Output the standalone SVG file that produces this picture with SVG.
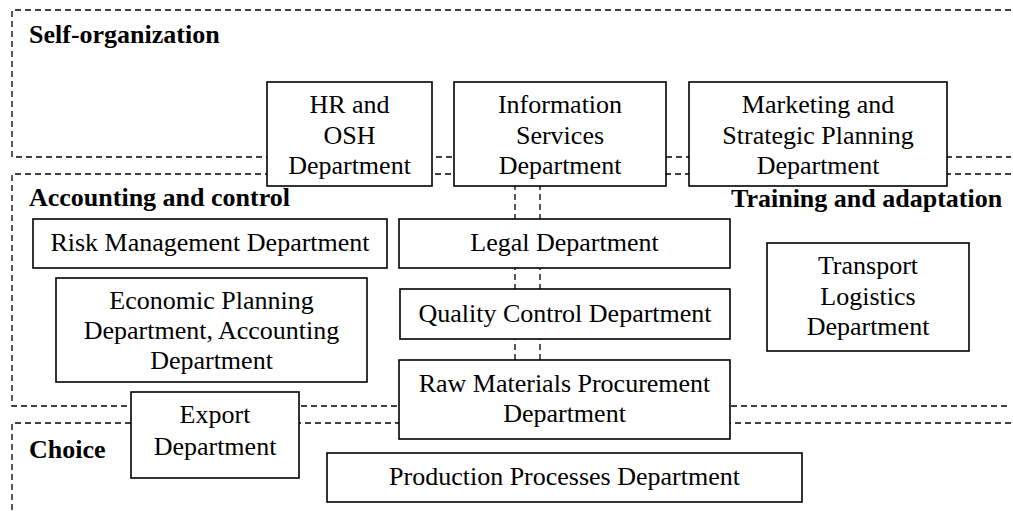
<svg xmlns="http://www.w3.org/2000/svg" width="1013" height="511" viewBox="0 0 1013 511">
<style>
.region{fill:none;stroke:#000;stroke-width:1.3;stroke-dasharray:6 4}
.conn{fill:none;stroke:#000;stroke-width:1.3;stroke-dasharray:6 4}
.box{fill:#fff;stroke:#000;stroke-width:1.6}
.t{font-family:"Liberation Serif","Times New Roman",serif;font-size:26px;fill:#000;text-anchor:middle}
.h{font-family:"Liberation Serif","Times New Roman",serif;font-size:26px;font-weight:bold;fill:#000}
</style>
<rect width="1013" height="511" fill="#fff"/>
<g id="regions">
<path class="region" d="M1011,10 H12 V157 H1011"/>
<path class="region" d="M1011,174 H12 V406 H1011"/>
<path class="region" d="M1011,423 H12 V511"/>
<text class="h" x="29" y="43">Self-organization</text>
<text class="h" x="29" y="206">Accounting and control</text>
<text class="h" x="731" y="207">Training and adaptation</text>
<text class="h" x="29" y="458">Choice</text>
</g>
<g id="connectors">
<line class="conn" x1="515" y1="174" x2="515" y2="406"/>
<line class="conn" x1="540" y1="174" x2="540" y2="406"/>
</g>
<g id="hr">
<rect class="box" x="267" y="82" width="165" height="104"/>
<text class="t" x="349.5" y="113">HR and</text>
<text class="t" x="349.5" y="143.5">OSH</text>
<text class="t" x="349.5" y="173.5">Department</text>
</g>
<g id="info">
<rect class="box" x="454" y="82" width="212" height="104"/>
<text class="t" x="560" y="113">Information</text>
<text class="t" x="560" y="143.5">Services</text>
<text class="t" x="560" y="173.5">Department</text>
</g>
<g id="marketing">
<rect class="box" x="689" y="82" width="258" height="104"/>
<text class="t" x="818" y="113">Marketing and</text>
<text class="t" x="818" y="143.5">Strategic Planning</text>
<text class="t" x="818" y="173.5">Department</text>
</g>
<g id="risk">
<rect class="box" x="33" y="219" width="354" height="49"/>
<text class="t" x="210" y="251">Risk Management Department</text>
</g>
<g id="legal">
<rect class="box" x="399" y="219" width="331" height="49"/>
<text class="t" x="564.5" y="251">Legal Department</text>
</g>
<g id="economic">
<rect class="box" x="56" y="278" width="311" height="104"/>
<text class="t" x="211.5" y="309">Economic Planning</text>
<text class="t" x="211.5" y="339">Department, Accounting</text>
<text class="t" x="211.5" y="369">Department</text>
</g>
<g id="quality">
<rect class="box" x="400" y="289" width="330" height="50"/>
<text class="t" x="565" y="322">Quality Control Department</text>
</g>
<g id="transport">
<rect class="box" x="767" y="243" width="202" height="108"/>
<text class="t" x="868" y="274">Transport</text>
<text class="t" x="868" y="305">Logistics</text>
<text class="t" x="868" y="335">Department</text>
</g>
<g id="raw">
<rect class="box" x="399" y="360" width="331" height="79"/>
<text class="t" x="564.5" y="392">Raw Materials Procurement</text>
<text class="t" x="564.5" y="422">Department</text>
</g>
<g id="export">
<rect class="box" x="131" y="392" width="168" height="86"/>
<text class="t" x="215" y="423">Export</text>
<text class="t" x="215" y="455">Department</text>
</g>
<g id="production">
<rect class="box" x="327" y="453" width="475" height="49"/>
<text class="t" x="564.5" y="485">Production Processes Department</text>
</g>
</svg>
